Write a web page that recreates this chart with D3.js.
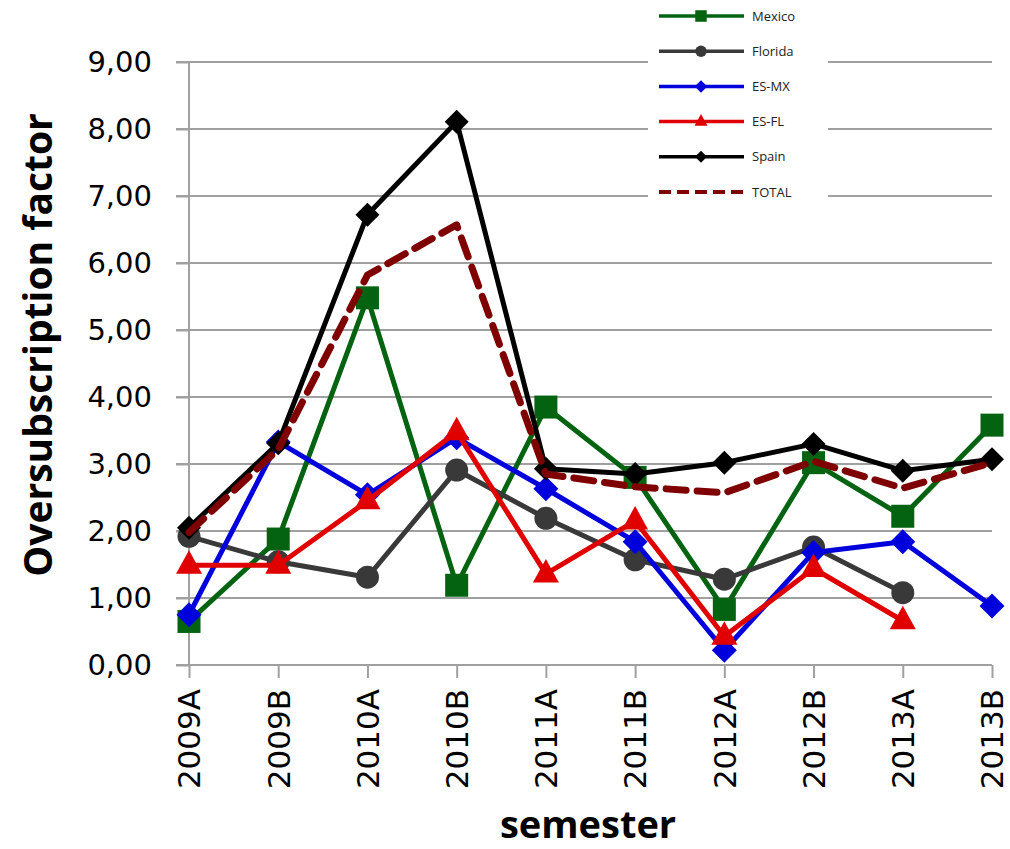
<!DOCTYPE html>
<html><head><meta charset="utf-8">
<script src="https://cdn.jsdelivr.net/npm/d3@7"></script>
<style>body{margin:0;background:#fff}svg{display:block}</style>
</head><body>
<svg id="c" width="1010" height="849"></svg>
<script>
const categories = ["2009A","2009B","2010A","2010B","2011A","2011B","2012A","2012B","2013A","2013B"];
const mexico  = [0.65,1.88,5.48,1.19,3.85,2.80,0.83,3.02,2.22,3.58];
const florida = [1.92,1.54,1.31,2.91,2.19,1.57,1.28,1.76,1.08,null];
const esmx    = [0.75,3.33,2.54,3.39,2.63,1.84,0.22,1.68,1.84,0.88];
const esfl    = [1.49,1.49,2.45,3.48,1.36,2.15,0.43,1.44,0.66,null];
const spain   = [2.05,3.31,6.72,8.11,2.93,2.85,3.02,3.30,2.90,3.07];
const total   = [1.98,3.22,5.82,6.57,2.85,2.66,2.57,3.04,2.64,3.02];
const yTicks  = [0,1,2,3,4,5,6,7,8,9];
const seriesNames = ["Mexico","Florida","ES-MX","ES-FL","Spain","TOTAL"];

const series = [
  {name:seriesNames[0], values:mexico,  color:"#036311", marker:"square"},
  {name:seriesNames[1], values:florida, color:"#393939", marker:"circle"},
  {name:seriesNames[2], values:esmx,    color:"#0000dd", marker:"diamond"},
  {name:seriesNames[3], values:esfl,    color:"#e00000", marker:"triangle"},
  {name:seriesNames[4], values:spain,   color:"#000000", marker:"diamondS"},
  {name:seriesNames[5], values:total,   color:"#7f0000", marker:"none", dash:"20,11"}
];

const svg = d3.select("#c");
const m = {l:189, r:18, t:62, b:184};
const W = 1010, H = 849;
const x = d3.scalePoint().domain(categories).range([m.l, W - m.r]).padding(0);
const y = d3.scaleLinear().domain([0,9]).range([H - m.b, m.t]);

// gridlines
svg.append("g").selectAll("line").data(yTicks.filter(d=>d>0)).join("line")
  .attr("x1", m.l - 13).attr("x2", W - m.r)
  .attr("y1", d=>y(d)).attr("y2", d=>y(d))
  .attr("stroke","#a0a0a0").attr("stroke-width",2);

// y axis
const yAxis = svg.append("g").attr("transform",`translate(${m.l},0)`)
  .call(d3.axisLeft(y).tickValues(yTicks).tickSize(13).tickPadding(24)
    .tickFormat(d=>d3.format(".2f")(d).replace(".",",")));
yAxis.select(".domain").attr("stroke","#a0a0a0").attr("stroke-width",2).attr("d",`M0,${y(9)}V${y(0)}`);
yAxis.selectAll(".tick line").attr("stroke","#a0a0a0").attr("stroke-width",2);
yAxis.selectAll(".tick text").attr("font-family","DejaVu Sans").attr("font-size",29).attr("fill","#000");

// x axis
const xAxis = svg.append("g").attr("transform",`translate(0,${y(0)})`)
  .call(d3.axisBottom(x).tickSize(13).tickPadding(0));
xAxis.select(".domain").attr("stroke","#a0a0a0").attr("stroke-width",2).attr("d",`M${m.l-13},0H${W-m.r}`);
xAxis.selectAll(".tick line").attr("stroke","#a0a0a0").attr("stroke-width",2);
xAxis.selectAll(".tick text").attr("font-family","DejaVu Sans").attr("font-size",31).attr("fill","#000")
  .attr("transform","rotate(-90)").attr("text-anchor","end").attr("dy","0.35em").attr("x",-24).attr("y",0);

// axis titles
svg.append("text").attr("transform",`translate(52,${345}) rotate(-90)`)
  .attr("text-anchor","middle").attr("font-family","Open Sans").attr("font-weight","bold")
  .attr("font-size",39).text("Oversubscription factor");
svg.append("text").attr("x",588).attr("y",838).attr("text-anchor","middle")
  .attr("font-family","Open Sans").attr("font-weight","bold").attr("font-size",38).text("semester");

// legend background
const lg = svg.append("g");
lg.append("rect").attr("x",648).attr("y",0).attr("width",180).attr("height",210).attr("fill","#fff");

function drawMarker(g, type, cx, cy, color, scale){
  const s = scale||1;
  if(type==="square") g.append("rect").attr("x",cx-11.5*s).attr("y",cy-11.5*s).attr("width",23*s).attr("height",23*s).attr("fill",color);
  else if(type==="circle") g.append("circle").attr("cx",cx).attr("cy",cy).attr("r",11.5*s).attr("fill",color);
  else if(type==="diamond") g.append("path").attr("d",`M${cx},${cy-12.5*s}L${cx+12.5*s},${cy}L${cx},${cy+12.5*s}L${cx-12.5*s},${cy}Z`).attr("fill",color);
  else if(type==="diamondS") g.append("path").attr("d",`M${cx},${cy-12*s}L${cx+12*s},${cy}L${cx},${cy+12*s}L${cx-12*s},${cy}Z`).attr("fill",color);
  else if(type==="triangle") g.append("path").attr("d",`M${cx},${cy-15*s}L${cx+13*s},${cy+8.5*s}L${cx-13*s},${cy+8.5*s}Z`).attr("fill",color);
}

// series
const line = d3.line().defined(d=>d.v!=null).x(d=>x(d.c)).y(d=>y(d.v));
series.forEach(s=>{
  const pts = categories.map((c,i)=>({c, v:s.values[i]}));
  const g = svg.append("g");
  g.append("path").attr("d", line(pts)).attr("fill","none").attr("stroke",s.color)
    .attr("stroke-width", s.dash?7:5).attr("stroke-linejoin","round")
    .attr("stroke-linecap", s.dash?"round":"butt")
    .attr("stroke-dasharray", s.dash||null);
  if(s.marker!=="none") pts.filter(d=>d.v!=null).forEach(d=>drawMarker(g, s.marker, x(d.c), y(d.v), s.color));
});

// legend
series.forEach((s,i)=>{
  const ly = 16 + i*35.2;
  lg.append("line").attr("x1",659).attr("x2",744).attr("y1",ly).attr("y2",ly)
    .attr("stroke",s.color).attr("stroke-width",s.dash?4:3.5).attr("stroke-dasharray",s.dash?"12,6":null);
  if(s.marker!=="none") drawMarker(lg, s.marker, 701, ly, s.color, 0.5);
  lg.append("text").attr("x",752).attr("y",ly).attr("dy","0.35em").attr("font-family","Open Sans")
    .attr("font-size",13).attr("fill","#222").text(s.name);
});
</script>
</body></html>
